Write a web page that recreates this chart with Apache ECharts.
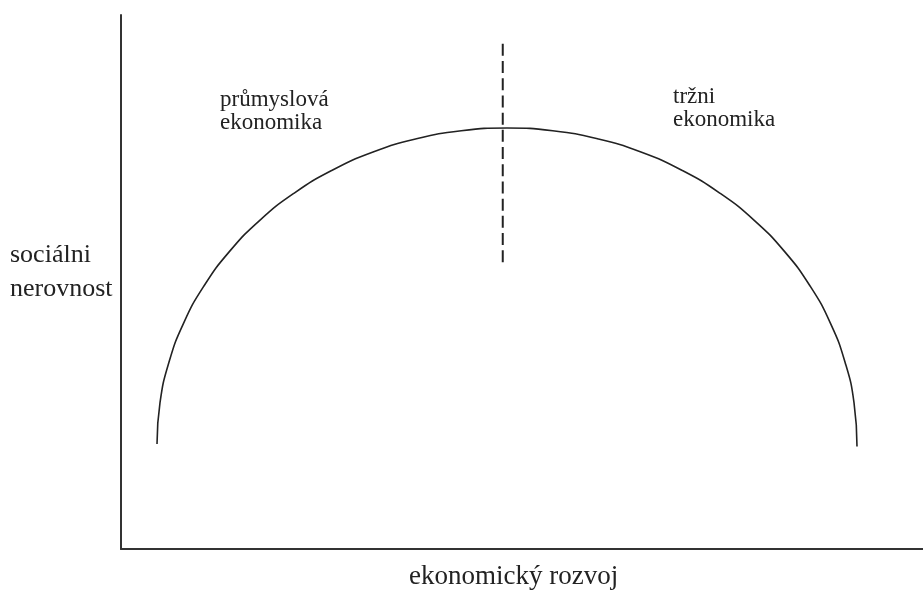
<!DOCTYPE html>
<html>
<head>
<meta charset="utf-8">
<title>sociální nerovnost</title>
<script src="https://cdn.jsdelivr.net/npm/echarts@6/dist/echarts.min.js"></script>
<style>
  html, body { margin: 0; padding: 0; background: #fff; }
  #chart { width: 923px; height: 596px; }
</style>
</head>
<body>
<div id="chart"></div>
<script>
// points (x = ekonomický rozvoj, y = sociální nerovnost, 0-100)
var curveX = [4.49, 4.86, 5.98, 7.81, 10.34, 13.51, 17.27, 21.56, 26.31, 31.43, 36.84, 42.43, 48.13,
  53.83, 59.42, 64.83, 69.95, 74.70, 78.99, 82.75, 85.92, 88.45, 90.28, 91.40, 91.77];
var curveY = [19.66, 27.38, 34.98, 42.31, 49.25, 55.69, 61.51, 66.61, 70.91, 74.34, 76.82, 78.33, 78.84,
  78.33, 76.82, 74.34, 70.91, 66.61, 61.51, 55.69, 49.25, 42.31, 34.98, 27.38, 19.2];
// dashed divider
var dividerX = [47.6, 47.6];
var dividerY = [94.6, 53.7];

var font = '"Liberation Serif", "DejaVu Serif", serif';

var chart = echarts.init(document.getElementById("chart"));
chart.setOption({
  animation: false,
  grid: {
    left: 121,
    right: 0,
    top: 15,
    bottom: 47
  },
  xAxis: {
    type: "value",
    min: 0,
    max: 100,
    axisLine: { show: true, onZero: false, lineStyle: { color: "#333", width: 2 } },
    axisTick: { show: false },
    axisLabel: { show: false },
    splitLine: { show: false }
  },
  yAxis: {
    type: "value",
    min: 0,
    max: 100,
    axisLine: { show: true, onZero: false, lineStyle: { color: "#333", width: 2 } },
    axisTick: { show: false },
    axisLabel: { show: false },
    splitLine: { show: false }
  },
  series: [
    {
      type: "line",
      smooth: true,
      symbol: "none",
      lineStyle: { color: "#222", width: 1.6 },
      data: curveX.map(function (x, i) { return [x, curveY[i]]; })
    },
    {
      type: "line",
      symbol: "none",
      lineStyle: { color: "#222", width: 2, type: [12, 5.2] },
      data: dividerX.map(function (x, i) { return [x, dividerY[i]]; })
    }
  ],
  graphic: [
    {
      type: "text",
      left: 10,
      top: 238,
      style: {
        text: "sociálni\nnerovnost",
        font: "26px " + font,
        lineHeight: 34,
        fill: "#222"
      }
    },
    {
      type: "text",
      left: 409,
      top: 563,
      style: {
        text: "ekonomický rozvoj",
        font: "27px " + font,
        fill: "#222"
      }
    },
    {
      type: "text",
      left: 220,
      top: 88,
      style: {
        text: "průmyslová\nekonomika",
        font: "23px " + font,
        lineHeight: 23,
        fill: "#222"
      }
    },
    {
      type: "text",
      left: 673,
      top: 85,
      style: {
        text: "tržni\nekonomika",
        font: "23px " + font,
        lineHeight: 23,
        fill: "#222"
      }
    }
  ]
});
</script>
</body>
</html>
